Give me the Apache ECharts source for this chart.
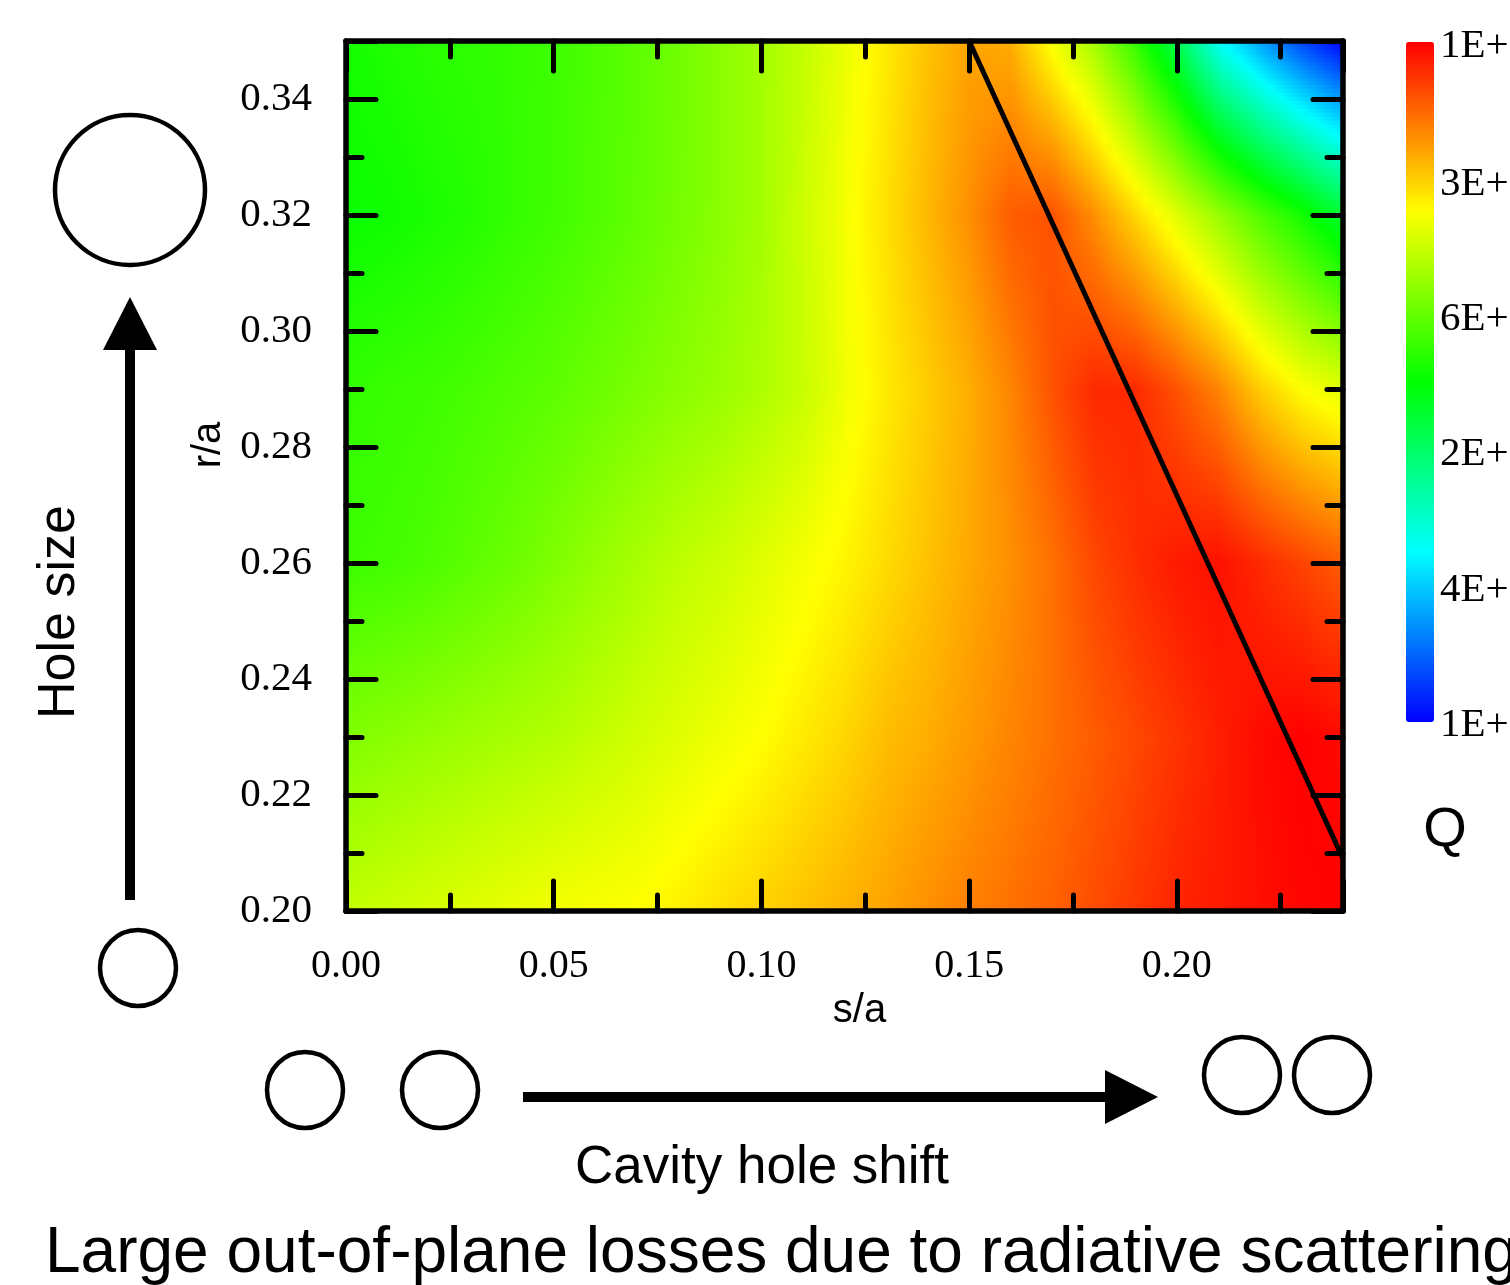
<!DOCTYPE html>
<html>
<head>
<meta charset="utf-8">
<title>Q map over s/a and r/a</title>
<script src="https://cdn.jsdelivr.net/npm/echarts@6/dist/echarts.min.js"></script>
<style>
  html, body { margin: 0; padding: 0; background: #fff; }
  #chart { width: 1510px; height: 1285px; }
</style>
</head>
<body>
<div id="chart"></div>
<script>
// --- grid nodes ---
const sOverA = [0.00, 0.01, 0.02, 0.03, 0.04, 0.05, 0.06, 0.07, 0.08, 0.09, 0.10, 0.11, 0.12,
                0.13, 0.14, 0.15, 0.16, 0.17, 0.18, 0.19, 0.20, 0.21, 0.22, 0.23, 0.24];
const rOverA = [0.20, 0.23, 0.26, 0.29, 0.32, 0.35];

// normalised colour level (0 = blue bottom of colour bar, 1 = red top), one row per r/a
const qAt020 = [0.69, 0.70, 0.71, 0.72, 0.73, 0.74, 0.745, 0.75, 0.765, 0.78, 0.795, 0.81, 0.825,
                0.84, 0.86, 0.875, 0.89, 0.905, 0.925, 0.945, 0.965, 0.975, 0.985, 0.995, 1.0];
const qAt023 = [0.625, 0.635, 0.645, 0.655, 0.665, 0.675, 0.69, 0.705, 0.72, 0.735, 0.75, 0.77, 0.79,
                0.815, 0.83, 0.85, 0.87, 0.89, 0.91, 0.93, 0.95, 0.97, 0.99, 1.0, 0.99];
const qAt026 = [0.56, 0.565, 0.575, 0.59, 0.605, 0.625, 0.645, 0.665, 0.685, 0.70, 0.72, 0.74, 0.76,
                0.785, 0.81, 0.835, 0.86, 0.89, 0.93, 0.955, 0.975, 0.985, 0.96, 0.935, 0.91];
const qAt029 = [0.547, 0.555, 0.56, 0.57, 0.58, 0.59, 0.605, 0.62, 0.635, 0.65, 0.67, 0.695, 0.735,
                0.77, 0.80, 0.83, 0.87, 0.92, 0.96, 0.96, 0.92, 0.87, 0.80, 0.75, 0.72];
const qAt032 = [0.51, 0.515, 0.525, 0.535, 0.55, 0.563, 0.578, 0.595, 0.615, 0.635, 0.66, 0.70, 0.74,
                0.78, 0.82, 0.86, 0.91, 0.92, 0.86, 0.79, 0.72, 0.65, 0.58, 0.52, 0.45];
const qAt035 = [0.52, 0.53, 0.54, 0.545, 0.55, 0.56, 0.575, 0.59, 0.61, 0.635, 0.66, 0.69, 0.73,
                0.77, 0.81, 0.84, 0.83, 0.74, 0.66, 0.55, 0.42, 0.26, 0.16, 0.07, 0.0];
const qRows = [qAt020, qAt023, qAt026, qAt029, qAt032, qAt035];

// black boundary line
const boundaryS = [0.15, 0.24];
const boundaryR = [0.35, 0.209];

// colour bar
const barColors = ['#0000ff', '#00ffff', '#00ff00', '#ffff00', '#ff0000'];
const barLabels = ['1E+', '3E+', '6E+', '2E+', '4E+', '1E+'];

const chart = echarts.init(document.getElementById('chart'), null, { renderer: 'canvas' });

function hexRgb(h) {
  return [parseInt(h.slice(1, 3), 16), parseInt(h.slice(3, 5), 16), parseInt(h.slice(5, 7), 16)];
}
const barRgb = barColors.map(hexRgb);

function colorFor(v) {
  v = Math.max(0, Math.min(1, v));
  const n = barRgb.length - 1;
  const k = Math.min(n - 1, Math.floor(v * n));
  const t = v * n - k;
  const a = barRgb[k], b = barRgb[k + 1];
  const c = a.map((x, i) => Math.round(x + (b[i] - x) * t));
  return 'rgb(' + c.join(',') + ')';
}

// cells between neighbouring nodes
const cells = [];
for (let j = 0; j < rOverA.length - 1; j++) {
  for (let i = 0; i < sOverA.length - 1; i++) {
    cells.push([i, j]);
  }
}

function renderCell(params, api) {
  const i = api.value(0), j = api.value(1);
  const p0 = api.coord([sOverA[i], rOverA[j]]);
  const p1 = api.coord([sOverA[i + 1], rOverA[j + 1]]);
  const left = p0[0], right = p1[0], bottom = p0[1], top = p1[1];
  const rowA = qRows[j], rowB = qRows[j + 1];
  const bands = Math.max(1, Math.round((bottom - top) / 4));
  const h = (bottom - top) / bands;
  const children = [];
  for (let k = 0; k < bands; k++) {
    const t = (k + 0.5) / bands;
    const vl = rowA[i] + (rowB[i] - rowA[i]) * t;
    const vr = rowA[i + 1] + (rowB[i + 1] - rowA[i + 1]) * t;
    const stops = [];
    for (let s = 0; s <= 4; s++) {
      stops.push({ offset: s / 4, color: colorFor(vl + (vr - vl) * s / 4) });
    }
    children.push({
      type: 'rect',
      shape: { x: left, y: bottom - h * (k + 1), width: right - left + 0.8, height: h + 0.8 },
      style: { fill: new echarts.graphic.LinearGradient(0, 0, 1, 0, stops) }
    });
  }
  return { type: 'group', children: children };
}

const tickStyle = { color: '#000', width: 5, cap: 'round' };
const frameLine = { onZero: false, lineStyle: { color: '#000', width: 5.5 } };
const serif = 'Liberation Serif';
const sans = 'Liberation Sans';

function near(a, b) { return Math.abs(a - b) < 1e-6; }

const xAxes = [
  {
    type: 'value', position: 'bottom', min: 0, max: 0.24, interval: 0.05, z: 10,
    axisLine: frameLine,
    axisTick: { inside: true, length: 30, lineStyle: tickStyle },
    axisLabel: {
      margin: 35, fontFamily: serif, fontSize: 40, color: '#000',
      formatter: v => near(v, 0.24) ? '' : v.toFixed(2)
    },
    splitLine: { show: false },
    name: 's/a', nameLocation: 'middle', nameGap: 76,
    nameTextStyle: { fontFamily: sans, fontSize: 40, color: '#000', padding: [0, 0, 0, 30] }
  },
  {
    type: 'value', position: 'bottom', min: 0, max: 0.24, interval: 0.025, z: 10,
    axisLine: { show: false, onZero: false },
    axisTick: { inside: true, length: 16, lineStyle: tickStyle },
    axisLabel: { show: false }, splitLine: { show: false }
  },
  {
    type: 'value', position: 'top', min: 0, max: 0.24, interval: 0.05, z: 10,
    axisLine: frameLine,
    axisTick: { inside: true, length: 30, lineStyle: tickStyle },
    axisLabel: { show: false }, splitLine: { show: false }
  },
  {
    type: 'value', position: 'top', min: 0, max: 0.24, interval: 0.025, z: 10,
    axisLine: { show: false, onZero: false },
    axisTick: { inside: true, length: 16, lineStyle: tickStyle },
    axisLabel: { show: false }, splitLine: { show: false }
  }
];

const yAxes = [
  {
    type: 'value', position: 'left', min: 0.20, max: 0.35, interval: 0.02, z: 10,
    axisLine: frameLine,
    axisTick: { inside: true, length: 30, lineStyle: tickStyle },
    axisLabel: {
      margin: 34, fontFamily: serif, fontSize: 41, color: '#000',
      formatter: v => near(v, 0.35) ? '' : v.toFixed(2)
    },
    splitLine: { show: false },
    name: 'r/a', nameLocation: 'middle', nameGap: 116,
    nameTextStyle: { fontFamily: sans, fontSize: 40, color: '#000', padding: [0, 0, 0, 62] }
  },
  {
    type: 'value', position: 'left', min: 0.20, max: 0.35, interval: 0.01, z: 10,
    axisLine: { show: false, onZero: false },
    axisTick: { inside: true, length: 16, lineStyle: tickStyle },
    axisLabel: { show: false }, splitLine: { show: false }
  },
  {
    type: 'value', position: 'right', min: 0.20, max: 0.35, interval: 0.02, z: 10,
    axisLine: frameLine,
    axisTick: { inside: true, length: 30, lineStyle: tickStyle },
    axisLabel: { show: false }, splitLine: { show: false }
  },
  {
    type: 'value', position: 'right', min: 0.20, max: 0.35, interval: 0.01, z: 10,
    axisLine: { show: false, onZero: false },
    axisTick: { inside: true, length: 16, lineStyle: tickStyle },
    axisLabel: { show: false }, splitLine: { show: false }
  }
];

// labels next to the colour bar
const barLabelY = [46, 184, 319, 454, 590, 725];
const barTexts = barLabels.map((t, k) => ({
  type: 'text', x: 1440, y: barLabelY[k],
  style: { text: t, font: '41px "Liberation Serif"', fill: '#000', align: 'left', verticalAlign: 'middle' }
}));

function ring(cx, cy, r) {
  return { type: 'circle', shape: { cx: cx, cy: cy, r: r }, style: { fill: '#fff', stroke: '#000', lineWidth: 4.5 } };
}

const decorations = [
  ring(130, 190, 75),
  ring(138, 968, 38),
  ring(305, 1090, 38),
  ring(440, 1090, 38),
  ring(1242, 1075, 38),
  ring(1332, 1075, 38),
  // vertical arrow
  { type: 'rect', shape: { x: 125, y: 340, width: 10, height: 560 }, style: { fill: '#000' } },
  { type: 'polygon', shape: { points: [[130, 297], [103, 350], [157, 350]] }, style: { fill: '#000' } },
  // horizontal arrow
  { type: 'rect', shape: { x: 523, y: 1092, width: 590, height: 10 }, style: { fill: '#000' } },
  { type: 'polygon', shape: { points: [[1158, 1097], [1105, 1070], [1105, 1124]] }, style: { fill: '#000' } },
  {
    type: 'text', x: 60, y: 612, rotation: Math.PI / 2,
    style: { text: 'Hole size', font: '52px "Liberation Sans"', fill: '#000', align: 'center', verticalAlign: 'middle' }
  },
  {
    type: 'text', x: 762, y: 1168,
    style: { text: 'Cavity hole shift', font: '53px "Liberation Sans"', fill: '#000', align: 'center', verticalAlign: 'middle' }
  },
  {
    type: 'text', x: 45, y: 1254,
    style: { text: 'Large out-of-plane losses due to radiative scattering', font: '64px "Liberation Sans"', fill: '#000', align: 'left', verticalAlign: 'middle' }
  },
  {
    type: 'text', x: 1445, y: 831,
    style: { text: 'Q', font: '56px "Liberation Sans"', fill: '#000', align: 'center', verticalAlign: 'middle' }
  }
];

const option = {
  backgroundColor: '#fff',
  animation: false,
  grid: { left: 346, top: 41, width: 997, height: 870, containLabel: false },
  xAxis: xAxes,
  yAxis: yAxes,
  visualMap: {
    type: 'continuous',
    seriesIndex: 0,
    min: 0,
    max: 1,
    orient: 'vertical',
    left: 1406,
    top: 42,
    padding: 0,
    itemWidth: 28,
    itemHeight: 680,
    calculable: false,
    text: null,
    showLabel: false,
    inRange: { color: barColors }
  },
  graphic: barTexts.concat(decorations),
  series: [
    {
      type: 'custom',
      xAxisIndex: 0,
      yAxisIndex: 0,
      z: 1,
      silent: true,
      renderItem: renderCell,
      data: cells
    },
    {
      type: 'line',
      xAxisIndex: 0,
      yAxisIndex: 0,
      z: 5,
      symbol: 'none',
      silent: true,
      lineStyle: { color: '#000', width: 5 },
      data: boundaryS.map((s, k) => [s, boundaryR[k]])
    }
  ]
};

chart.setOption(option);
</script>
</body>
</html>
